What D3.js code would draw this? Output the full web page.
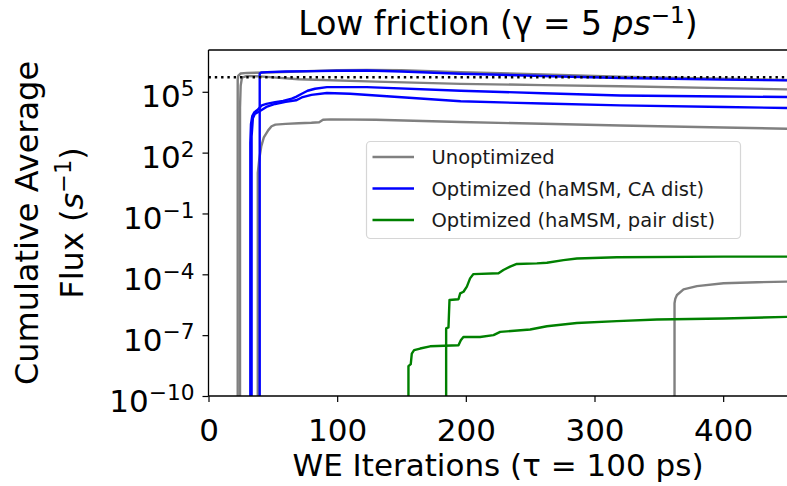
<!DOCTYPE html>
<html>
<head>
<meta charset="utf-8">
<script src="https://cdn.jsdelivr.net/npm/d3@7"></script>
<style>
  html, body { margin: 0; padding: 0; background: #fff; }
  svg { display: block; font-family: "DejaVu Sans", sans-serif; }
</style>
</head>
<body>
<svg id="chart" width="787" height="486"></svg>
<script>
// ---------- data (iteration, log10 flux) ----------
const X_TICKS = [0, 100, 200, 300, 400];
const Y_TICK_EXPONENTS = [-10, -7, -4, -1, 2, 5];
const TARGET_LOG_FLUX = 5.72;  // dotted reference line

const LEGEND_LABELS = ["Unoptimized", "Optimized (haMSM, CA dist)", "Optimized (haMSM, pair dist)"];
const SERIES_COLORS = ["#808080", "#0000ff", "#008000"];

// Unoptimized runs
const gray1Iter    = [22.7, 22.7, 23.2, 25, 30, 45, 70, 100, 123, 150, 196, 260, 320, 400, 450];
const gray1LogFlux = [-12, 5.6, 5.8, 5.9, 5.93, 5.95, 6.0, 6.06, 6.08, 6.07, 5.97, 5.86, 5.74, 5.64, 5.58];
const gray2Iter    = [24.5, 24.5, 25, 26, 30, 40, 70, 130, 196, 260, 320, 400, 450];
const gray2LogFlux = [-12, 4.2, 5.3, 5.7, 5.78, 5.76, 5.62, 5.5, 5.39, 5.33, 5.27, 5.18, 5.12];
const gray3Iter    = [38.3, 38.3, 39.5, 41, 43, 46.5, 49, 52, 60, 70, 80, 86, 89, 95, 130, 196, 260, 320, 400, 450];
const gray3LogFlux = [-12, 1.0, 1.7, 2.3, 2.75, 3.11, 3.3, 3.38, 3.42, 3.45, 3.47, 3.5, 3.62, 3.64, 3.62, 3.51, 3.42, 3.34, 3.24, 3.18];
const gray4Iter    = [362.2, 362.2, 362.8, 364.1, 369.2, 379.6, 400.3, 426.3, 450];
const gray4LogFlux = [-12, -5.43, -5.2, -5.02, -4.74, -4.58, -4.44, -4.39, -4.36];

// Optimized (haMSM, CA dist) runs
const blue1Iter    = [39.8, 39.8, 41, 45.5, 60, 82, 100, 123, 150, 196, 260, 320, 400, 450];
const blue1LogFlux = [-12, 5.9, 5.95, 5.97, 6.0, 6.02, 6.04, 6.05, 6.0, 5.89, 5.78, 5.68, 5.6, 5.56];
const blue2Iter    = [32.5, 32.5, 33, 34, 35.5, 38, 41.4, 45, 51.7, 58, 64.7, 68, 72.5, 77, 82.8, 92, 123, 196, 260, 320, 400, 450];
const blue2LogFlux = [-12, 2.5, 3.4, 3.8, 3.98, 4.1, 4.33, 4.4, 4.49, 4.55, 4.66, 4.75, 4.9, 5.05, 5.15, 5.23, 5.23, 5.05, 4.93, 4.82, 4.77, 4.74];
const blue3Iter    = [33.5, 33.5, 34.5, 36, 40, 45, 51.7, 60, 68, 72.5, 80, 92, 110, 196, 260, 320, 400, 450];
const blue3LogFlux = [-12, 2.8, 3.7, 3.9, 4.05, 4.25, 4.4, 4.5, 4.58, 4.72, 4.85, 4.94, 4.9, 4.53, 4.42, 4.33, 4.25, 4.2];

// Optimized (haMSM, pair dist) runs
const green1Iter    = [155.4, 155.4, 157.2, 158, 159.8, 164.5, 172.2, 194.3, 196.1, 198.1, 211.1, 221.5, 226.7, 250, 263, 286.3, 317.4, 348.5, 400.3, 450];
const green1LogFlux = [-12, -8.53, -8.43, -7.91, -7.74, -7.66, -7.55, -7.5, -7.25, -7.09, -7.09, -7.0, -6.84, -6.72, -6.56, -6.4, -6.31, -6.23, -6.18, -6.1];
const green2Iter    = [184.7, 184.7, 186.5, 187.3, 194.3, 195.6, 198.2, 200.8, 203.3, 205.9, 225.4, 229.2, 234.4, 239.6, 255.2, 263, 275.9, 286.3, 317.4, 400.3, 450];
const green2LogFlux = [-12, -6.67, -6.62, -5.27, -5.23, -4.94, -4.86, -4.61, -4.2, -3.99, -3.95, -3.79, -3.62, -3.49, -3.46, -3.43, -3.3, -3.22, -3.16, -3.13, -3.13];

const runs = [
  { iter: gray1Iter,  logFlux: gray1LogFlux,  s: 0 },
  { iter: gray2Iter,  logFlux: gray2LogFlux,  s: 0 },
  { iter: gray3Iter,  logFlux: gray3LogFlux,  s: 0 },
  { iter: gray4Iter,  logFlux: gray4LogFlux,  s: 0 },
  { iter: blue1Iter,  logFlux: blue1LogFlux,  s: 1 },
  { iter: blue2Iter,  logFlux: blue2LogFlux,  s: 1 },
  { iter: blue3Iter,  logFlux: blue3LogFlux,  s: 1 },
  { iter: green1Iter, logFlux: green1LogFlux, s: 2 },
  { iter: green2Iter, logFlux: green2LogFlux, s: 2 }
];

// ---------- layout ----------
const W = 787, H = 486;
const pL = 208.5, pR = 787.5, pT = 50, pB = 396;

const svg = d3.select("#chart");
const x = d3.scaleLinear().domain([0, 450]).range([pL, pR]);
const y = d3.scaleLog().domain([1e-10, Math.pow(10, 7.06)]).range([pB, pT]);

svg.append("defs").append("clipPath").attr("id", "plotclip")
  .append("rect").attr("x", pL).attr("y", pT).attr("width", pR - pL).attr("height", pB - pT);

// rich text helper
function rich(sel, parts, size) {
  parts.forEach(p => {
    const ts = sel.append("tspan").text(p.t);
    if (p.it) ts.attr("font-style", "italic");
    if (p.sup) {
      ts.attr("font-size", size * 0.7).attr("dy", -size * 0.36);
    } else if (p.after) {
      ts.attr("dy", size * 0.36);
    }
  });
}

// ---------- lines ----------
const plot = svg.append("g").attr("clip-path", "url(#plotclip)");
const line = d3.line()
  .x(d => x(d[0]))
  .y(d => y(Math.pow(10, d[1])));

runs.forEach(r => {
  const pts = r.iter.map((v, i) => [v, r.logFlux[i]]);
  plot.append("path")
    .attr("d", line(pts))
    .attr("fill", "none")
    .attr("stroke", SERIES_COLORS[r.s])
    .attr("stroke-width", 2.4)
    .attr("stroke-linejoin", "round");
});

// dotted reference line
plot.append("line")
  .attr("x1", pL).attr("x2", pR)
  .attr("y1", y(Math.pow(10, TARGET_LOG_FLUX))).attr("y2", y(Math.pow(10, TARGET_LOG_FLUX)))
  .attr("stroke", "#000").attr("stroke-width", 2.4)
  .attr("stroke-dasharray", "2.4,3.9");

// ---------- axes ----------
const TICK_FS = 31;
const yAxis = svg.append("g").attr("transform", `translate(${pL},0)`)
  .call(d3.axisLeft(y).tickValues(Y_TICK_EXPONENTS.map(e => Math.pow(10, e))).tickSize(6).tickFormat(""));
yAxis.select(".domain").remove();
yAxis.selectAll(".tick line").attr("stroke", "#000").attr("stroke-width", 1.2);
yAxis.selectAll(".tick").each(function(d) {
  const e = Math.round(Math.log10(d));
  const t = d3.select(this).append("text")
    .attr("x", -14).attr("y", 15)
    .attr("text-anchor", "end").attr("fill", "#000")
    .attr("font-size", TICK_FS).attr("font-family", "DejaVu Sans");
  rich(t, [{ t: "10" }, { t: (e < 0 ? "\u2212" : "") + Math.abs(e), sup: true }], TICK_FS);
});

const xAxis = svg.append("g").attr("transform", `translate(0,${pB})`)
  .call(d3.axisBottom(x).tickValues(X_TICKS).tickSize(6).tickFormat(d3.format("d")));
xAxis.select(".domain").remove();
xAxis.selectAll(".tick line").attr("stroke", "#000").attr("stroke-width", 1.2);
xAxis.selectAll(".tick text")
  .attr("dy", null).attr("y", 45)
  .attr("fill", "#000").attr("font-size", TICK_FS).attr("font-family", "DejaVu Sans");

// spines
const spine = svg.append("g").attr("stroke", "#000").attr("stroke-width", 1.3);
spine.append("line").attr("x1", pL).attr("x2", pL).attr("y1", pT).attr("y2", pB);
spine.append("line").attr("x1", pL).attr("x2", W).attr("y1", pB).attr("y2", pB);
spine.append("line").attr("x1", pL).attr("x2", W).attr("y1", pT).attr("y2", pT);

// ---------- titles ----------
const TITLE_FS = 33;
const title = svg.append("text")
  .attr("x", (pL + pR) / 2).attr("y", 35)
  .attr("text-anchor", "middle").attr("font-size", TITLE_FS).attr("fill", "#000");
rich(title, [{ t: "Low friction (\u03b3 = 5 " }, { t: "ps", it: true }, { t: "\u22121", sup: true }, { t: ")", after: true }], TITLE_FS);

const LABEL_FS = 31;
svg.append("text")
  .attr("x", (pL + pR) / 2).attr("y", 476)
  .attr("text-anchor", "middle").attr("font-size", LABEL_FS).attr("fill", "#000")
  .text("WE Iterations (\u03c4 = 100 ps)");

const cy = (pT + pB) / 2;
svg.append("text")
  .attr("transform", `translate(37.5,${cy}) rotate(-90)`)
  .attr("text-anchor", "middle").attr("font-size", 32).attr("fill", "#000")
  .text("Cumulative Average");
const yl2 = svg.append("text")
  .attr("transform", `translate(82.5,${cy}) rotate(-90)`)
  .attr("text-anchor", "middle").attr("font-size", 32).attr("fill", "#000");
rich(yl2, [{ t: "Flux (" }, { t: "s", it: true }, { t: "\u22121", sup: true }, { t: ")", after: true }], 32);

// ---------- legend ----------
const LEG_FS = 19.5;
const leg = svg.append("g");
leg.append("rect")
  .attr("x", 366.5).attr("y", 141.5).attr("width", 374).attr("height", 97)
  .attr("rx", 4).attr("fill", "#fff").attr("fill-opacity", 0.8)
  .attr("stroke", "#d6d6d6").attr("stroke-width", 1.2);
const rowY = [157, 188.5, 220];
LEGEND_LABELS.forEach((lab, i) => {
  leg.append("line")
    .attr("x1", 372.5).attr("x2", 414).attr("y1", rowY[i]).attr("y2", rowY[i])
    .attr("stroke", SERIES_COLORS[i]).attr("stroke-width", 2.4);
  leg.append("text")
    .attr("x", 431.5).attr("y", rowY[i] + 7)
    .attr("font-size", LEG_FS).attr("fill", "#1a1a1a")
    .text(lab);
});
</script>
</body>
</html>
